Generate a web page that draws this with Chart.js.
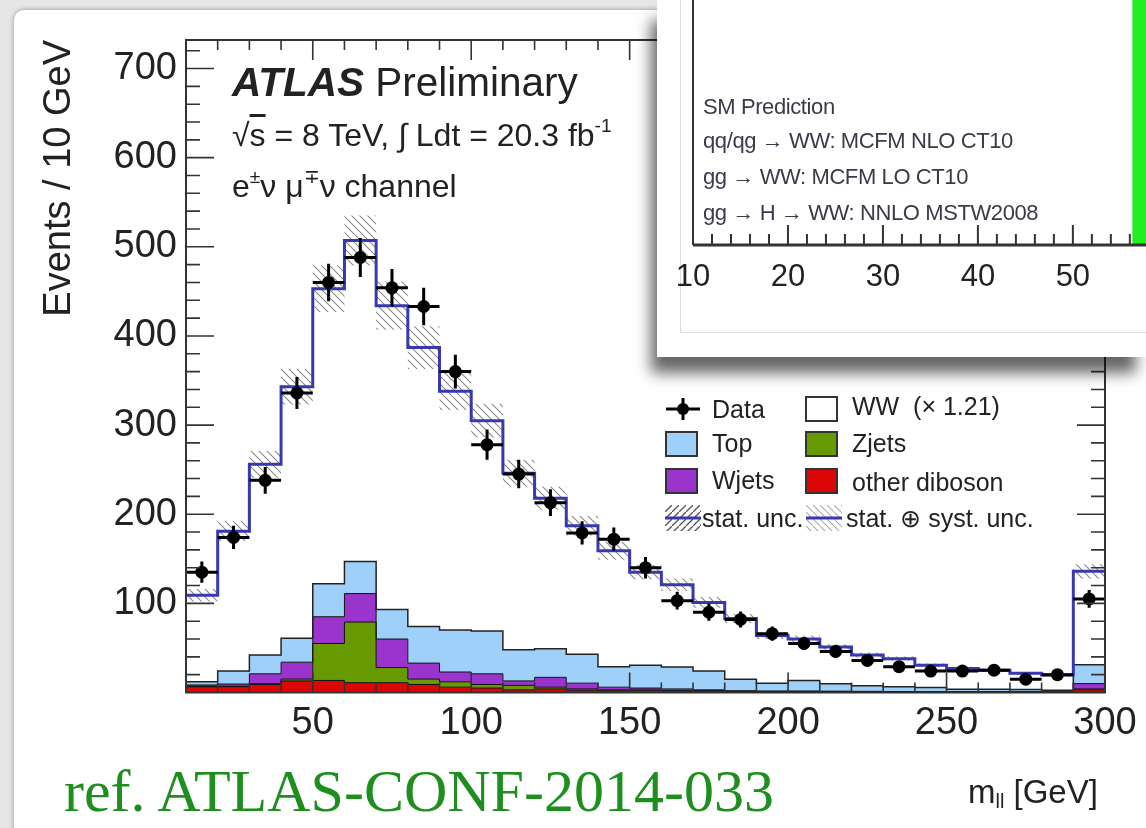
<!DOCTYPE html>
<html>
<head>
<meta charset="utf-8">
<title>m_ll distribution</title>
<script src="https://cdn.jsdelivr.net/npm/chart.js@4.4.0/dist/chart.umd.min.js"></script>
<style>
  html, body { margin: 0; padding: 0; }
  body {
    width: 1146px; height: 828px; overflow: hidden; position: relative;
    background: #e6e6e6;
    font-family: "Liberation Sans", Arial, sans-serif; color: #222;
  }
  #card {
    position: absolute; left: 14px; top: 10px; width: 1180px; height: 860px;
    background: #fff; border-radius: 10px 0 0 0;
    box-shadow: 0 0 5px rgba(0,0,0,0.35);
  }
  #main { position: absolute; left: 0; top: 0; }
  .txt { position: absolute; white-space: nowrap; line-height: 1; }
  .sup { font-size: 0.6em; vertical-align: 0.75em; }
  .sub { font-size: 0.6em; vertical-align: -0.25em; }
  .leg { position: absolute; font-size: 25px; line-height: 1; white-space: nowrap; }
  .box { position: absolute; width: 33px; height: 26px; box-sizing: border-box; border: 2px solid #333; }
  #inset {
    position: absolute; left: 657px; top: 0; width: 489px; height: 357px;
    background: #fff;
    box-shadow: -8px 18px 14px -2px rgba(0,0,0,0.6);
  }
  #insetFrame {
    position: absolute; left: 23px; top: -2px; width: 480px; height: 334px;
    border-left: 1px solid #ddd; border-bottom: 1px solid #ddd;
  }
  #insetCanvas { position: absolute; left: 0; top: 0; }
  .itxt { position: absolute; left: 46px; font-size: 22px; letter-spacing: -0.4px; color: #3a3a48; white-space: nowrap; line-height: 1; }
</style>
</head>
<body>
<div id="card"></div>
<canvas id="main" width="1146" height="828"></canvas>

<div class="txt" style="left:232px; top:62px; font-size:40.5px;"><b><i>ATLAS</i></b> Preliminary</div>
<div class="txt" style="left:232px; top:116px; font-size:32px;">√<span style="text-decoration:overline">s</span> = 8 TeV, ∫ Ldt = 20.3 fb<span class="sup">-1</span></div>
<div class="txt" style="left:232px; top:167px; font-size:32px;">e<span class="sup">±</span>ν μ<span class="sup">∓</span>ν channel</div>

<!-- legend -->
<svg style="position:absolute; left:665px; top:396px;" width="36" height="26">
  <line x1="1" y1="13" x2="35" y2="13" stroke="#000" stroke-width="3"/>
  <line x1="18" y1="2" x2="18" y2="24" stroke="#000" stroke-width="3"/>
  <circle cx="18" cy="13" r="6" fill="#000"/>
</svg>
<div class="leg" style="left:712px; top:397px;">Data</div>
<div class="box" style="left:805px; top:396px; background:#fff;"></div>
<div class="leg" style="left:852px; top:394px;">WW&nbsp; (× 1.21)</div>

<div class="box" id="legTop" style="left:665px; top:431px;"></div>
<div class="leg" style="left:712px; top:431px;">Top</div>
<div class="box" id="legZ" style="left:805px; top:431px;"></div>
<div class="leg" style="left:852px; top:431px;">Zjets</div>

<div class="box" id="legW" style="left:665px; top:468px;"></div>
<div class="leg" style="left:712px; top:468px;">Wjets</div>
<div class="box" id="legDib" style="left:805px; top:468px;"></div>
<div class="leg" style="left:852px; top:470px;">other diboson</div>

<svg style="position:absolute; left:665px; top:505px;" width="36" height="26">
  <defs>
    <pattern id="hs" width="7" height="7" patternUnits="userSpaceOnUse">
      <line x1="0" y1="7" x2="7" y2="0" stroke="#555" stroke-width="1.3"/>
    </pattern>
    <pattern id="hss" width="7" height="7" patternUnits="userSpaceOnUse">
      <line x1="0" y1="0" x2="7" y2="7" stroke="#aaa" stroke-width="1.1"/>
    </pattern>
  </defs>
  <rect x="0" y="0" width="36" height="26" fill="url(#hs)"/>
  <line x1="0" y1="13" x2="36" y2="13" stroke="#3838b0" stroke-width="3"/>
</svg>
<div class="leg" style="left:702px; top:506px;">stat. unc.</div>
<svg style="position:absolute; left:806px; top:505px;" width="36" height="26">
  <rect x="0" y="0" width="36" height="26" fill="url(#hss)"/>
  <line x1="0" y1="13" x2="36" y2="13" stroke="#3838b0" stroke-width="3"/>
</svg>
<div class="leg" style="left:846px; top:506px;">stat. ⊕ syst. unc.</div>

<div class="txt" style="left:968px; top:775px; font-size:33px;">m<span class="sub">ll</span> [GeV]</div>
<div class="txt" style="left:64px; top:761px; font-size:60px; font-family:'Liberation Serif', 'Times New Roman', serif; color:#1e8f1e;">ref. ATLAS-CONF-2014-033</div>

<div id="inset">
  <div id="insetFrame"></div>
  <canvas id="insetCanvas" width="489" height="357"></canvas>
  <div class="itxt" style="top:96px;">SM Prediction</div>
  <div class="itxt" style="top:130px;">qq/qg → WW: MCFM NLO CT10</div>
  <div class="itxt" style="top:166px;">gg → WW: MCFM LO CT10</div>
  <div class="itxt" style="top:202px;">gg → H → WW: NNLO MSTW2008</div>
</div>

<script>
// lower bin edges in GeV, 10 GeV bins, last bin includes overflow
const mllLow = [10, 20, 30, 40, 50, 60, 70, 80, 90, 100, 110, 120, 130, 140, 150,
                160, 170, 180, 190, 200, 210, 220, 230, 240, 250, 260, 270, 280, 290];
const binWidth = 10;

const dataEvents = [135, 174, 238, 336, 460, 488, 454, 433, 360, 278, 245, 213, 179, 172, 140,
                    103, 90, 82, 66, 55, 46, 36, 29, 24, 24, 25, 15, 20, 105];
const dataErr = [12, 13, 15, 18, 21, 22, 21, 21, 19, 17, 16, 15, 13, 13, 12,
                 10, 9.5, 9, 8, 7.4, 6.8, 6, 5.4, 4.9, 4.9, 5, 3.9, 4.5, 10];

// total prediction (WW scaled + backgrounds) and its stat+syst uncertainty
const totalMC = [109, 181, 256, 343, 453, 507, 434, 387, 338, 305, 246, 218, 187, 159, 135,
                 121, 101, 83, 64, 60, 51, 42, 38, 30.5, 27, 25, 21.5, 19.5, 136];
const mcErr = [7, 11, 15, 20, 26, 28, 27, 24, 21, 19, 15, 13, 11, 10, 8,
               7, 6, 5, 4, 4, 3, 3, 2.5, 2, 2, 2, 1.5, 1.5, 8];

// backgrounds
const topBkg = [3.5, 14.5, 21, 27, 37, 36, 33, 41, 47, 48, 35, 32, 32.5, 23, 25.5,
                24.5, 21, 13, 8.8, 11.8, 8.3, 6.2, 5.4, 4.5, 2.7, 2.7, 2.6, 1.8, 21];
const wjetsBkg = [1.5, 2.5, 11, 19, 30, 32, 32, 18, 11, 12, 5, 11, 6.5, 3, 2,
                  2, 1, 0.7, 0.5, 0.5, 0.5, 0.4, 0.3, 0.3, 0.3, 0.3, 0.3, 0.2, 6];
const zjetsBkg = [0.5, 0.5, 1, 2, 41.5, 68, 17, 6, 6, 4, 5, 2, 1.5, 1, 1,
                  0.5, 0.5, 0.3, 0.2, 0.2, 0.2, 0.2, 0.2, 0.2, 0.1, 0.1, 0.1, 0.1, 1];
const dibosonBkg = [6.5, 6.5, 9, 13, 13.5, 11, 11, 9, 6, 5, 3, 4, 2.5, 2, 2,
                    1.5, 1.5, 1, 1, 1, 0.8, 0.7, 0.6, 0.5, 0.5, 0.5, 0.5, 0.4, 3];

const xTicks = [50, 100, 150, 200, 250, 300];
const yTicks = [100, 200, 300, 400, 500, 600, 700];

// inset: SM prediction band on the cross-section axis
const insetTicks = [10, 20, 30, 40, 50];
const smBand = [56.3, 58.5];

const colTop = '#9fd0fa', colW = '#9a34cc', colZ = '#669a00', colDib = '#dd0606';
const colTotal = '#3838b0';
const FONT = '"Liberation Sans", Arial, sans-serif';

document.getElementById('legTop').style.background = colTop;
document.getElementById('legW').style.background = colW;
document.getElementById('legZ').style.background = colZ;
document.getElementById('legDib').style.background = colDib;

// step outline: one point per lower edge plus the closing edge
function steps(vals) {
  const pts = mllLow.map((x, i) => ({x: x, y: vals[i]}));
  pts.push({x: mllLow[mllLow.length - 1] + binWidth, y: vals[vals.length - 1]});
  return pts;
}
function cumulate(...arrs) {
  return arrs[0].map((_, i) => arrs.reduce((s, a) => s + a[i], 0));
}

const cumDib = dibosonBkg;
const cumZ = cumulate(dibosonBkg, zjetsBkg);
const cumW = cumulate(dibosonBkg, zjetsBkg, wjetsBkg);
const cumTop = cumulate(dibosonBkg, zjetsBkg, wjetsBkg, topBkg);
const bandLo = totalMC.map((v, i) => v - mcErr[i]);
const bandHi = totalMC.map((v, i) => v + mcErr[i]);

function hatchPattern(color) {
  const c = document.createElement('canvas');
  c.width = 8; c.height = 8;
  const g = c.getContext('2d');
  g.strokeStyle = color; g.lineWidth = 1.1;
  g.beginPath();
  g.moveTo(0, 0); g.lineTo(8, 8);
  g.moveTo(-1, 7); g.lineTo(1, 9);
  g.moveTo(7, -1); g.lineTo(9, 1);
  g.stroke();
  return g.createPattern(c, 'repeat');
}

function stepSet(vals, fill, bg, border, width, order) {
  return {
    type: 'line', data: steps(vals), stepped: 'before',
    borderColor: border, borderWidth: width, backgroundColor: bg,
    fill: fill, pointRadius: 0, order: order
  };
}

const errorBars = {
  id: 'errorBars',
  afterDatasetsDraw(chart) {
    const {ctx, scales: {x, y}} = chart;
    ctx.save();
    ctx.strokeStyle = '#000';
    ctx.lineWidth = 3;
    dataEvents.forEach((v, i) => {
      const cx = x.getPixelForValue(mllLow[i] + binWidth / 2);
      const cy = y.getPixelForValue(v);
      ctx.beginPath();
      ctx.moveTo(x.getPixelForValue(mllLow[i]), cy);
      ctx.lineTo(x.getPixelForValue(mllLow[i] + binWidth), cy);
      ctx.moveTo(cx, y.getPixelForValue(v - dataErr[i]));
      ctx.lineTo(cx, y.getPixelForValue(v + dataErr[i]));
      ctx.stroke();
    });
    ctx.restore();
  }
};

// ROOT style frame: ticks on all four sides, pointing inwards
const frame = {
  id: 'frame',
  afterDatasetsDraw(chart) {
    const {ctx, chartArea: a, scales: {x, y}} = chart;
    ctx.save();
    ctx.strokeStyle = '#333';
    ctx.lineWidth = 2;
    ctx.strokeRect(a.left, a.top, a.right - a.left, a.bottom - a.top);
    ctx.lineWidth = 1.6;
    ctx.beginPath();
    for (let v = 20; v < y.max; v += 20) {
      const len = v % 100 === 0 ? 28 : 14;
      const py = y.getPixelForValue(v);
      ctx.moveTo(a.left, py); ctx.lineTo(a.left + len, py);
      ctx.moveTo(a.right, py); ctx.lineTo(a.right - len, py);
    }
    for (let v = 20; v < x.max; v += 10) {
      const len = v % 50 === 0 ? 20 : 10;
      const px = x.getPixelForValue(v);
      ctx.moveTo(px, a.bottom); ctx.lineTo(px, a.bottom - len);
      ctx.moveTo(px, a.top); ctx.lineTo(px, a.top + len);
    }
    ctx.stroke();
    ctx.restore();
  }
};

new Chart(document.getElementById('main'), {
  type: 'line',
  data: {
    datasets: [
      stepSet(cumDib, 'origin', colDib, '#111', 1, 12),
      stepSet(cumZ, '-1', colZ, '#111', 1, 11),
      stepSet(cumW, '-1', colW, '#111', 1, 10),
      stepSet(cumTop, '-1', colTop, '#222', 1.5, 9),
      stepSet(totalMC, '-1', '#ffffff', '#222', 1, 8),
      stepSet(bandLo, false, 'rgba(0,0,0,0)', 'rgba(0,0,0,0)', 0, 7),
      stepSet(bandHi, '-1', hatchPattern('#8a8a8a'), 'rgba(0,0,0,0)', 0, 6),
      stepSet(totalMC, false, 'rgba(0,0,0,0)', colTotal, 3, 5),
      {
        type: 'line', showLine: false, order: 1,
        data: dataEvents.map((v, i) => ({x: mllLow[i] + binWidth / 2, y: v})),
        pointRadius: 6.5, pointBackgroundColor: '#000', pointBorderWidth: 0
      }
    ]
  },
  options: {
    responsive: false,
    animation: false,
    layout: {padding: {top: 40, right: 41, left: 0, bottom: 0}},
    plugins: {
      legend: {display: false},
      tooltip: {enabled: false},
      filler: {drawTime: 'beforeDatasetsDraw'}
    },
    scales: {
      x: {
        type: 'linear', min: 10, max: 300,
        afterBuildTicks: s => { s.ticks = xTicks.map(v => ({value: v})); },
        afterFit: s => { s.height = 828 - 692.5; },
        grid: {display: false},
        border: {display: false},
        ticks: {padding: 0, color: '#222', font: {family: FONT, size: 38}, maxRotation: 0}
      },
      y: {
        type: 'linear', min: 0, max: 732,
        afterBuildTicks: s => { s.ticks = yTicks.map(v => ({value: v})); },
        afterFit: s => { s.width = 186; },
        grid: {display: false},
        border: {display: false},
        ticks: {padding: 1, color: '#222', font: {family: FONT, size: 38}},
        title: {
          display: true, text: 'Events / 10 GeV', align: 'end',
          color: '#222', font: {family: FONT, size: 38}, padding: {top: 37, bottom: 0}
        }
      }
    }
  },
  plugins: [errorBars, frame]
});

const insetAxes = {
  id: 'insetAxes',
  afterDatasetsDraw(chart) {
    const {ctx, chartArea: a, scales: {x}} = chart;
    ctx.save();
    ctx.strokeStyle = '#333';
    ctx.lineWidth = 2;
    ctx.beginPath();
    ctx.moveTo(a.left, 0); ctx.lineTo(a.left, a.bottom);
    ctx.stroke();
    ctx.lineWidth = 3;
    ctx.beginPath();
    ctx.moveTo(a.left, a.bottom); ctx.lineTo(a.right, a.bottom);
    ctx.stroke();
    ctx.lineWidth = 2;
    ctx.beginPath();
    for (let v = 12; v < x.max; v += 2) {
      const len = v % 10 === 0 ? 20 : 11;
      const px = x.getPixelForValue(v);
      ctx.moveTo(px, a.bottom); ctx.lineTo(px, a.bottom - len);
    }
    ctx.stroke();
    ctx.restore();
  }
};

new Chart(document.getElementById('insetCanvas'), {
  type: 'bar',
  data: {
    labels: [''],
    datasets: [{
      data: [smBand], backgroundColor: '#22ee22', borderWidth: 0,
      barPercentage: 1, categoryPercentage: 1
    }]
  },
  options: {
    indexAxis: 'y',
    responsive: false,
    animation: false,
    layout: {padding: 0},
    plugins: {legend: {display: false}, tooltip: {enabled: false}},
    scales: {
      x: {
        type: 'linear', min: 10, max: 57.7,
        afterBuildTicks: s => { s.ticks = insetTicks.map(v => ({value: v})); },
        afterFit: s => { s.height = 357 - 245; },
        grid: {display: false},
        border: {display: false},
        ticks: {padding: 6, color: '#222', font: {family: FONT, size: 31}, maxRotation: 0}
      },
      y: {
        afterFit: s => { s.width = 36; },
        grid: {display: false},
        border: {display: false},
        ticks: {display: false}
      }
    }
  },
  plugins: [insetAxes]
});
</script>
</body>
</html>
